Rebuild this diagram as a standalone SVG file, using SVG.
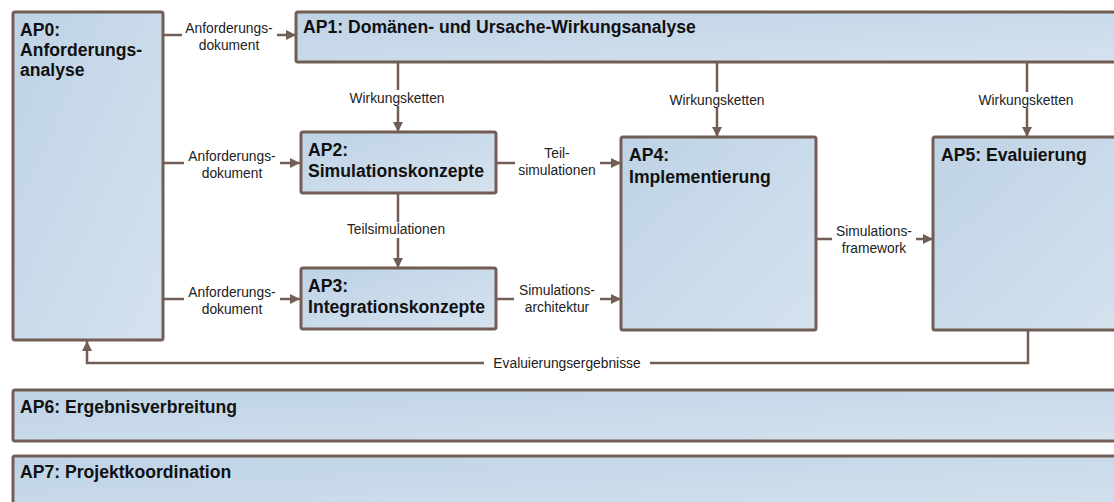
<svg xmlns="http://www.w3.org/2000/svg" width="1114" height="502" viewBox="0 0 1114 502">
<defs>
<linearGradient id="g" x1="0" y1="0" x2="1" y2="1">
<stop offset="0" stop-color="#bed3e6"/>
<stop offset="1" stop-color="#d5e2ee"/>
</linearGradient>
<marker id="ah" viewBox="0 0 10 10" refX="10" refY="5" markerWidth="10" markerHeight="11" markerUnits="userSpaceOnUse" orient="auto">
<path d="M0,0 L10,5 L0,10 Z" fill="#735e56"/>
</marker>
<style>
.box{fill:url(#g);stroke:#735e56;stroke-width:3}
.t{font-family:"Liberation Sans",Arial,sans-serif;font-weight:bold;font-size:17.6px;fill:#111}
.l{font-family:"Liberation Sans",Arial,sans-serif;font-size:13.8px;fill:#222;text-anchor:middle}
.c{fill:none;stroke:#735e56;stroke-width:2.5;marker-end:url(#ah)}
.bg{fill:#fff}
</style>
</defs>
<rect width="1114" height="502" fill="#fff"/>
<g id="connectors">
<path class="c" d="M163,35 H296"/>
<path class="c" d="M163,163 H300"/>
<path class="c" d="M163,299 H300"/>
<path class="c" d="M398,62 V132"/>
<path class="c" d="M717,62 V137"/>
<path class="c" d="M1027,62 V137"/>
<path class="c" d="M398,193 V268"/>
<path class="c" d="M496,163 H621"/>
<path class="c" d="M496,299 H621"/>
<path class="c" d="M816,239 H933"/>
<path class="c" d="M1028,330 V363 H87 V341"/>
<rect class="bg" x="182" y="20" width="95" height="30"/>
<text class="l" x="229" y="33">Anforderungs-</text>
<text class="l" x="229" y="50">dokument</text>
<rect class="bg" x="184" y="148" width="96" height="30"/>
<text class="l" x="232" y="161">Anforderungs-</text>
<text class="l" x="232" y="178">dokument</text>
<rect class="bg" x="184" y="284" width="96" height="30"/>
<text class="l" x="232" y="297">Anforderungs-</text>
<text class="l" x="232" y="314">dokument</text>
<rect class="bg" x="345" y="90" width="104" height="16"/>
<text class="l" x="397" y="103">Wirkungsketten</text>
<rect class="bg" x="665" y="92" width="104" height="16"/>
<text class="l" x="717" y="105">Wirkungsketten</text>
<rect class="bg" x="975" y="92" width="104" height="16"/>
<text class="l" x="1026" y="105">Wirkungsketten</text>
<rect class="bg" x="343" y="222" width="106" height="16"/>
<text class="l" x="396" y="234">Teilsimulationen</text>
<rect class="bg" x="515" y="145" width="85" height="31"/>
<text class="l" x="557" y="158">Teil-</text>
<text class="l" x="557" y="175">simulationen</text>
<rect class="bg" x="514" y="282" width="86" height="31"/>
<text class="l" x="557" y="295">Simulations-</text>
<text class="l" x="557" y="312">architektur</text>
<rect class="bg" x="832" y="224" width="84" height="31"/>
<text class="l" x="874" y="236">Simulations-</text>
<text class="l" x="874" y="253">framework</text>
<rect class="bg" x="484" y="355" width="166" height="16"/>
<text class="l" x="567" y="368">Evaluierungsergebnisse</text>
</g>
<g id="ap0"><rect class="box" x="13" y="12" width="150" height="328" rx="2"/>
<text class="t" x="20" y="36">AP0:</text><text class="t" x="20" y="56">Anforderungs-</text><text class="t" x="20" y="76">analyse</text></g>
<g id="ap1"><rect class="box" x="296" y="12" width="830" height="50" rx="2"/>
<text class="t" x="303" y="33">AP1: Domänen- und Ursache-Wirkungsanalyse</text></g>
<g id="ap2"><rect class="box" x="301" y="132" width="195" height="61" rx="2"/>
<text class="t" x="308" y="156">AP2:</text><text class="t" x="308" y="177">Simulationskonzepte</text></g>
<g id="ap3"><rect class="box" x="301" y="268" width="195" height="61" rx="2"/>
<text class="t" x="308" y="292">AP3:</text><text class="t" x="308" y="313">Integrationskonzepte</text></g>
<g id="ap4"><rect class="box" x="621" y="137" width="195" height="193" rx="2"/>
<text class="t" x="629" y="161">AP4:</text><text class="t" x="629" y="183">Implementierung</text></g>
<g id="ap5"><rect class="box" x="933" y="137" width="200" height="193" rx="2"/>
<text class="t" x="941" y="161">AP5: Evaluierung</text></g>
<g id="ap6"><rect class="box" x="13" y="390" width="1120" height="51" rx="2"/>
<text class="t" x="20" y="413">AP6: Ergebnisverbreitung</text></g>
<g id="ap7"><rect class="box" x="13" y="456" width="1120" height="60" rx="2"/>
<text class="t" x="20" y="478">AP7: Projektkoordination</text></g>
</svg>
